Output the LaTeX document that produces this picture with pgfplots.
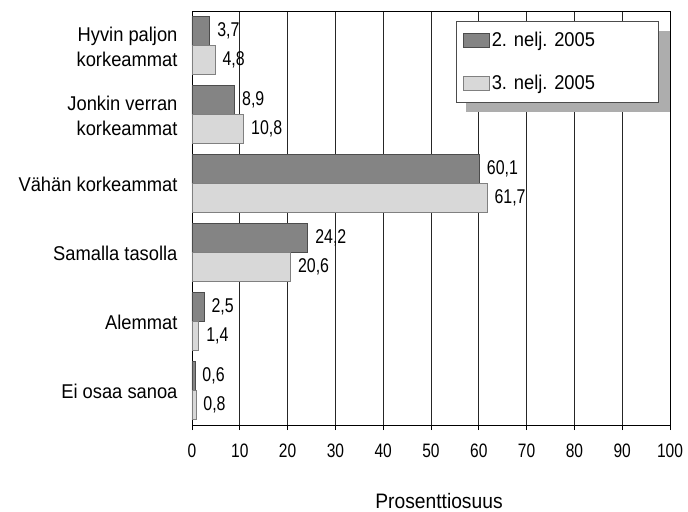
\documentclass[border=0pt]{standalone}
\usepackage{fontspec}
\setmainfont[FakeStretch=0.92]{Liberation Sans}
\newfontfamily\numfont[FakeStretch=0.8]{Liberation Sans}
\usepackage{pgfplots}
\pgfplotsset{compat=1.18}
\definecolor{darkbar}{RGB}{132,132,132}
\definecolor{lightbar}{RGB}{216,216,216}
\begin{document}
\begin{tikzpicture}
\begin{axis}[
  scale only axis, width=478bp, height=414bp,
  xbar, bar width=29bp,
  xmin=0, xmax=100, ymin=-0.5, ymax=5.5, y dir=reverse,
  xtick={0,10,...,100}, ytick={0,...,5},
  yticklabels={{Hyvin paljon\\korkeammat},{Jonkin verran\\korkeammat},{Vähän korkeammat},{Samalla tasolla},{Alemmat},{Ei osaa sanoa}},
  yticklabel style={align=right, font=\fontsize{20}{25}\selectfont, xshift=-6bp, yshift=-1bp},
  xticklabel style={font=\numfont\fontsize{19.5}{22}\selectfont, yshift=-10bp},
  /pgf/number format/assume math mode=true,
  ytick style={draw=none},
  xtick pos=lower, tick align=outside, major tick length=5bp,
  xmajorgrids, major grid style={black!85, line width=0.7bp},
  axis line style={black, line width=0.9bp},
  every tick/.style={black, line width=0.7bp},
  xlabel={Prosenttiosuus},
  xlabel style={at={(axis description cs:0.5,0)}, anchor=base, xshift=8bp, yshift=-83bp, font=\fontsize{21}{25}\selectfont},
  nodes near coords,
  nodes near coords align={horizontal},
  every node near coord/.append style={font=\numfont\fontsize{20}{22}\selectfont, black, xshift=4bp,
    /pgf/number format/.cd, fixed, fixed zerofill, precision=1, use comma, assume math mode=true},
  legend image code/.code={\draw[#1] (0bp,-7bp) rectangle (26bp,7bp);},
  legend cell align=left,
  legend style={at={(0.552,0.976)}, anchor=north west, draw=black!70, line width=0.7bp, fill=white,
    font=\fontsize{20}{24}\selectfont, row sep=23bp, inner xsep=7bp, inner ysep=9bp},
]
\fill[black!32] (rel axis cs:0.573,0.952) rectangle (rel axis cs:1.0,0.756);
\addplot[bar shift=14.5bp, fill=darkbar, draw=black!70, line width=0.6bp] coordinates {
  (3.7,0) (8.9,1) (60.1,2) (24.2,3) (2.5,4) (0.6,5)};
\addlegendentry{\makebox[158bp][l]{2. nelj. 2005}}
\addplot[bar shift=-14.5bp, fill=lightbar, draw=black!50, line width=0.6bp] coordinates {
  (4.8,0) (10.8,1) (61.7,2) (20.6,3) (1.4,4) (0.8,5)};
\addlegendentry{\makebox[158bp][l]{3. nelj. 2005}}
\end{axis}
\pgfresetboundingbox
\path ([shift={(-192bp,-87bp)}]current axis.south west) rectangle ([shift={(18bp,11bp)}]current axis.north east);
\end{tikzpicture}
\end{document}
